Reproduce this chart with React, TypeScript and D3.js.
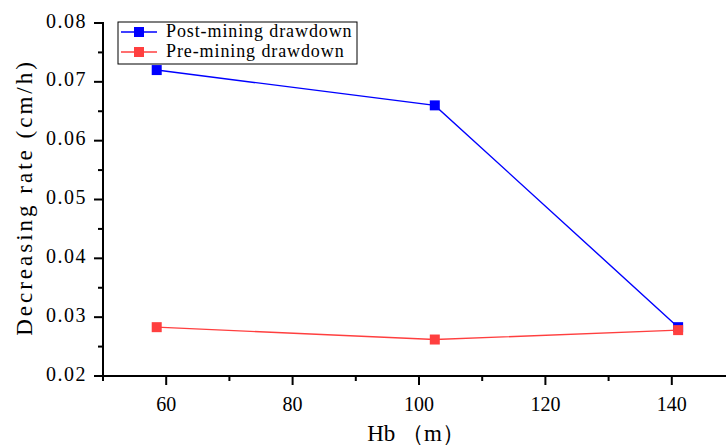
import React, { useMemo } from 'react';
import * as d3 from 'd3';

const W = 726;
const H = 448;
const MARGIN = { top: 23, right: -9, bottom: 72, left: 103 };

const hb = [58.5, 102.5, 141];
const postMining = [0.072, 0.066, 0.0283];
const preMining = [0.0283, 0.0262, 0.0278];

const xMajor = [60, 80, 100, 120, 140];
const xMinor = [50, 70, 90, 110, 130, 150];
const yMajor = [0.02, 0.03, 0.04, 0.05, 0.06, 0.07, 0.08];
const yMinor = [0.025, 0.035, 0.045, 0.055, 0.065, 0.075];

const SERIES = [
  { name: 'Post-mining drawdown', values: postMining, color: '#0000ff' },
  { name: 'Pre-mining drawdown', values: preMining, color: '#ff3f3f' },
];

const FONT = '"Liberation Serif", "DejaVu Serif", serif';

export default function App() {
  const x = useMemo(
    () => d3.scaleLinear().domain([50, 150]).range([MARGIN.left, W - MARGIN.right]),
    []
  );
  const y = useMemo(
    () => d3.scaleLinear().domain([0.02, 0.08]).range([H - MARGIN.bottom, MARGIN.top]),
    []
  );
  const line = d3
    .line<number>()
    .x((_, i) => x(hb[i]))
    .y((d) => y(d));

  const axisY = y(0.02);
  const axisX = x(50);

  return (
    <svg
      width={W}
      height={H}
      style={{ position: 'absolute', left: 0, top: 0, background: '#fff' }}
      fontFamily={FONT}
    >
      {/* series */}
      {SERIES.map((s) => (
        <g key={s.name}>
          <path d={line(s.values) ?? ''} fill="none" stroke={s.color} strokeWidth={1.4} />
          {s.values.map((v, i) => (
            <rect
              key={i}
              x={x(hb[i]) - 5}
              y={y(v) - 5}
              width={10}
              height={10}
              fill={s.color}
            />
          ))}
        </g>
      ))}

      {/* x axis */}
      <line x1={axisX - 1} x2={W} y1={axisY} y2={axisY} stroke="#000" strokeWidth={2} />
      {xMajor.map((t) => (
        <g key={t} transform={`translate(${x(t)},${axisY})`}>
          <line y2={9} stroke="#000" strokeWidth={2} />
          <text y={35} textAnchor="middle" fontSize={20}>
            {t}
          </text>
        </g>
      ))}
      {xMinor.map((t) => (
        <line key={t} x1={x(t)} x2={x(t)} y1={axisY} y2={axisY + 5} stroke="#000" strokeWidth={2} />
      ))}
      <text x={416} y={441} textAnchor="middle" fontSize={23}>
        Hb （m）
      </text>

      {/* y axis */}
      <line x1={axisX} x2={axisX} y1={y(0.08) - 1} y2={axisY + 1} stroke="#000" strokeWidth={2} />
      {yMajor.map((t) => (
        <g key={t} transform={`translate(${axisX},${y(t)})`}>
          <line x2={-9} stroke="#000" strokeWidth={2} />
          <text x={-16} textAnchor="end" dominantBaseline="middle" fontSize={20} letterSpacing={1.5}>
            {t.toFixed(2)}
          </text>
        </g>
      ))}
      {yMinor.map((t) => (
        <line key={t} x1={axisX} x2={axisX - 5} y1={y(t)} y2={y(t)} stroke="#000" strokeWidth={2} />
      ))}
      <text
        transform={`translate(32,${(y(0.08) + axisY) / 2 - 2}) rotate(-90)`}
        textAnchor="middle"
        fontSize={23}
        letterSpacing={3}
      >
        Decreasing rate (cm/h)
      </text>

      {/* legend */}
      <rect x={118} y={22} width={239} height={42} fill="#fff" stroke="#000" strokeWidth={1} />
      {SERIES.map((s, i) => {
        const ly = 32 + i * 20;
        return (
          <g key={s.name}>
            <line x1={121} x2={157} y1={ly} y2={ly} stroke={s.color} strokeWidth={1.4} />
            <rect x={134} y={ly - 5} width={10} height={10} fill={s.color} />
            <text x={166} y={ly + 1} dominantBaseline="middle" fontSize={18} letterSpacing={0.9}>
              {s.name}
            </text>
          </g>
        );
      })}
    </svg>
  );
}
